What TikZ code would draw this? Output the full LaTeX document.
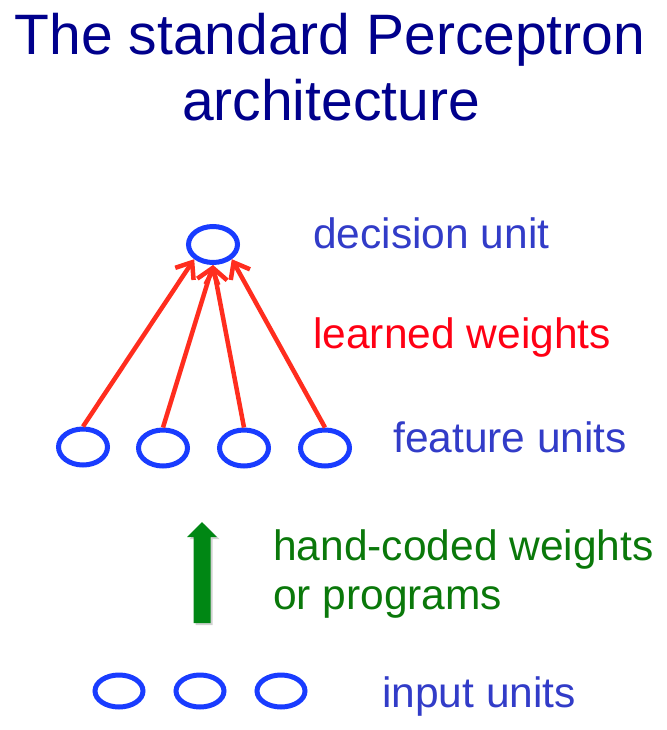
\documentclass[tikz,border=0pt]{standalone}
\usepackage{fontspec}
\setmainfont{Liberation Sans}
\usetikzlibrary{arrows.meta,shapes.geometric}
\definecolor{titleblue}{RGB}{0,0,140}
\definecolor{unitblue}{RGB}{25,60,255}
\definecolor{labelblue}{RGB}{50,60,200}
\definecolor{arrowred}{RGB}{255,45,30}
\definecolor{labelred}{RGB}{255,0,20}
\definecolor{arrowgreen}{RGB}{0,135,20}
\definecolor{labelgreen}{RGB}{10,120,10}
\tikzset{
  unit/.style={ellipse, draw=unitblue, line width=5pt, minimum width=49pt, minimum height=36pt, inner sep=0pt, fill=white},
  inunit/.style={unit, minimum width=48pt, minimum height=32pt},
  weight/.style={draw=arrowred, line width=4.5pt, -{Straight Barb[length=14pt,width=22pt,line width=4.5pt]}},
  lab/.style={anchor=base west, inner sep=0pt, font=\fontsize{42.5}{50}\selectfont},
  ttl/.style={anchor=base, inner sep=0pt, text=titleblue, font=\fontsize{57}{66}\selectfont}
}
\begin{document}
\begin{tikzpicture}[x=1pt,y=-1pt]
\useasboundingbox (0,0) rectangle (666,730);
% title
\node[ttl] (t1) at (330,55) {The standard Perceptron};
\node[ttl] (t2) at (331,121) {architecture};
% units
\node[unit] (d) at (213,244.5) {};
\node[unit] (f1) at (83,447) {};
\node[unit] (f2) at (163,448) {};
\node[unit] (f3) at (244,448) {};
\node[unit] (f4) at (325,448) {};
\node[inunit] (i1) at (119,691) {};
\node[inunit] (i2) at (200,691) {};
\node[inunit] (i3) at (281,691) {};
% learned weights
\draw[weight] (f1.north) -- (d.218);
\draw[weight] (f2.north) -- (d.south);
\draw[weight] (f3.north) -- (d.south);
\draw[weight] (f4.north) -- (d.322);
% hand-coded arrow (with soft shadow)
\fill[black,opacity=0.18] (195.5,625) -- (195.5,539) -- (189.5,539) -- (204.5,524) -- (219.5,539) -- (212.5,539) -- (212.5,625) -- cycle;
\fill[arrowgreen] (193.5,623) -- (193.5,537) -- (187,537) -- (202,522) -- (217,537) -- (210.5,537) -- (210.5,623) -- cycle;
% labels
\node[lab, text=labelblue] (ld) at (313,248) {decision unit};
\node[lab, text=labelred] (lw) at (313,348) {learned weights};
\node[lab, text=labelblue] (lf) at (393,452) {feature units};
\node[lab, text=labelgreen] (lh) at (273,560) {hand-coded weights};
\node[lab, text=labelgreen] (lp) at (273,609) {or programs};
\node[lab, text=labelblue] (li) at (382,707) {input units};
\end{tikzpicture}
\end{document}
